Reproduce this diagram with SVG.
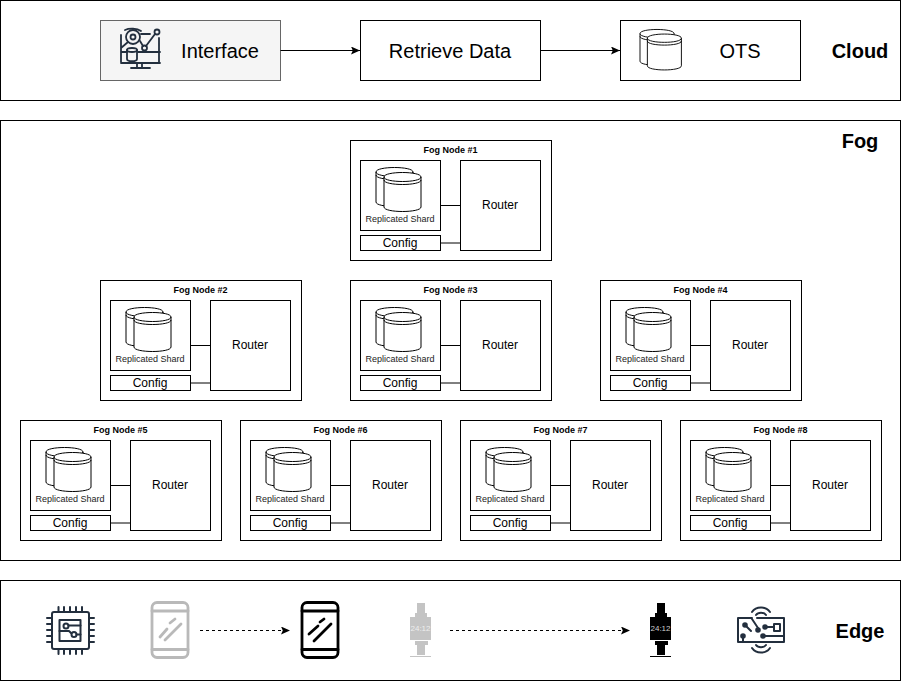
<svg xmlns="http://www.w3.org/2000/svg" width="904" height="681" viewBox="0 0 904 681">
<style>
text{font-family:"Liberation Sans",Arial,sans-serif;fill:#000;text-anchor:middle}
.b{fill:#fff;stroke:#000;stroke-width:1}
.t{font-size:20px}
.l{font-size:20px;font-weight:bold}
.h{font-size:9px;font-weight:bold}
.s{font-size:9px;fill:#222}
.c{font-size:12px}
.w{stroke:#000;fill:none}
.ic{fill:none;stroke:#232f3e;stroke-width:2;stroke-linecap:round;stroke-linejoin:round}
.ph{fill:none;stroke-width:2.800;stroke-linecap:round;stroke-linejoin:round}
</style>
<defs>
<marker id="a" markerWidth="10" markerHeight="10" refX="9" refY="4" orient="auto" markerUnits="userSpaceOnUse"><path d="M0 0L9 4L0 8L1.800 4Z" fill="#000"/></marker>
<g id="cyl">
<path class="b" d="M0 5C0 -1 37 -1 37 5V35C37 41 0 41 0 35Z"/>
<path d="M0 5C0 11 37 11 37 5M0 8C0 14 37 14 37 8" fill="none" stroke="#000"/>
</g>
<g id="shard"><use href="#cyl" x="0" y="0"/><use href="#cyl" x="8" y="5"/></g>
<g id="watch">
<rect x="7" y="0" width="8" height="10"/><rect x="5" y="10" width="12" height="4"/><rect x="0" y="14" width="21" height="23"/><rect x="5" y="38" width="13" height="4"/><rect x="7" y="42" width="8" height="10"/><rect x="0" y="53" width="21" height="1"/>
</g>
</defs>

<g id="cloud"><rect class="b" x="0.500" y="0.500" width="900" height="100"/><text class="l" x="860" y="58">Cloud</text></g>
<g id="fog"><rect class="b" x="0.500" y="120.500" width="900" height="440"/><text class="l" x="860" y="148">Fog</text></g>
<g id="edge"><rect class="b" x="0.500" y="580.500" width="900" height="100"/><text class="l" x="860" y="638">Edge</text></g>

<g id="interface">
<rect x="100.500" y="20.500" width="180" height="60" fill="#f5f5f5" stroke="#666"/>
<g fill="none" stroke="#232f3e" stroke-width="1.800" stroke-linecap="round" stroke-linejoin="round">
<path d="M121 35V62M121 63H160M159 38V63M121 52H127M138 52H160M141 34H150M128 42L121 48M125 30C129 28 137 28 141 31M140 41L143 46M146 46L155 34"/>
<circle cx="133" cy="37" r="7"/><circle cx="133" cy="37" r="2.500"/>
<circle cx="144.500" cy="48" r="2.500"/><circle cx="157" cy="32" r="2.500"/>
<ellipse cx="132" cy="50" rx="5" ry="2"/><path d="M127 50V59C127 62 137 62 137 59V50"/>
<path d="M137 63V67M142 63V67M131 68H150"/>
</g>
<text class="t" x="220" y="58">Interface</text>
</g>
<g id="retrieve"><rect class="b" x="360.500" y="20.500" width="180" height="60"/><text class="t" x="450" y="58">Retrieve Data</text></g>
<g id="ots"><rect class="b" x="620.500" y="20.500" width="180" height="60"/><use href="#shard" transform="translate(640 29) scale(.92)"/><text class="t" x="740" y="58">OTS</text></g>

<g id="fog-node-1" transform="translate(350 140)"><rect class="b" x=".5" y=".5" width="201" height="120"/><text class="h" x="100.500" y="13">Fog Node #1</text><rect class="b" x="10.500" y="20.500" width="80" height="70"/><use href="#shard" x="26" y="27"/><text class="s" x="50" y="82">Replicated Shard</text><rect class="b" x="110.500" y="20.500" width="80" height="90"/><text class="c" x="150" y="69">Router</text><rect class="b" x="10.500" y="95.500" width="80" height="15"/><text class="c" x="50" y="107">Config</text></g>
<g id="fog-node-2" transform="translate(100 280)"><rect class="b" x=".5" y=".5" width="201" height="120"/><text class="h" x="100.500" y="13">Fog Node #2</text><rect class="b" x="10.500" y="20.500" width="80" height="70"/><use href="#shard" x="26" y="27"/><text class="s" x="50" y="82">Replicated Shard</text><rect class="b" x="110.500" y="20.500" width="80" height="90"/><text class="c" x="150" y="69">Router</text><rect class="b" x="10.500" y="95.500" width="80" height="15"/><text class="c" x="50" y="107">Config</text></g>
<g id="fog-node-3" transform="translate(350 280)"><rect class="b" x=".5" y=".5" width="201" height="120"/><text class="h" x="100.500" y="13">Fog Node #3</text><rect class="b" x="10.500" y="20.500" width="80" height="70"/><use href="#shard" x="26" y="27"/><text class="s" x="50" y="82">Replicated Shard</text><rect class="b" x="110.500" y="20.500" width="80" height="90"/><text class="c" x="150" y="69">Router</text><rect class="b" x="10.500" y="95.500" width="80" height="15"/><text class="c" x="50" y="107">Config</text></g>
<g id="fog-node-4" transform="translate(600 280)"><rect class="b" x=".5" y=".5" width="201" height="120"/><text class="h" x="100.500" y="13">Fog Node #4</text><rect class="b" x="10.500" y="20.500" width="80" height="70"/><use href="#shard" x="26" y="27"/><text class="s" x="50" y="82">Replicated Shard</text><rect class="b" x="110.500" y="20.500" width="80" height="90"/><text class="c" x="150" y="69">Router</text><rect class="b" x="10.500" y="95.500" width="80" height="15"/><text class="c" x="50" y="107">Config</text></g>
<g id="fog-node-5" transform="translate(20 420)"><rect class="b" x=".5" y=".5" width="201" height="120"/><text class="h" x="100.500" y="13">Fog Node #5</text><rect class="b" x="10.500" y="20.500" width="80" height="70"/><use href="#shard" x="26" y="27"/><text class="s" x="50" y="82">Replicated Shard</text><rect class="b" x="110.500" y="20.500" width="80" height="90"/><text class="c" x="150" y="69">Router</text><rect class="b" x="10.500" y="95.500" width="80" height="15"/><text class="c" x="50" y="107">Config</text></g>
<g id="fog-node-6" transform="translate(240 420)"><rect class="b" x=".5" y=".5" width="201" height="120"/><text class="h" x="100.500" y="13">Fog Node #6</text><rect class="b" x="10.500" y="20.500" width="80" height="70"/><use href="#shard" x="26" y="27"/><text class="s" x="50" y="82">Replicated Shard</text><rect class="b" x="110.500" y="20.500" width="80" height="90"/><text class="c" x="150" y="69">Router</text><rect class="b" x="10.500" y="95.500" width="80" height="15"/><text class="c" x="50" y="107">Config</text></g>
<g id="fog-node-7" transform="translate(460 420)"><rect class="b" x=".5" y=".5" width="201" height="120"/><text class="h" x="100.500" y="13">Fog Node #7</text><rect class="b" x="10.500" y="20.500" width="80" height="70"/><use href="#shard" x="26" y="27"/><text class="s" x="50" y="82">Replicated Shard</text><rect class="b" x="110.500" y="20.500" width="80" height="90"/><text class="c" x="150" y="69">Router</text><rect class="b" x="10.500" y="95.500" width="80" height="15"/><text class="c" x="50" y="107">Config</text></g>
<g id="fog-node-8" transform="translate(680 420)"><rect class="b" x=".5" y=".5" width="201" height="120"/><text class="h" x="100.500" y="13">Fog Node #8</text><rect class="b" x="10.500" y="20.500" width="80" height="70"/><use href="#shard" x="26" y="27"/><text class="s" x="50" y="82">Replicated Shard</text><rect class="b" x="110.500" y="20.500" width="80" height="90"/><text class="c" x="150" y="69">Router</text><rect class="b" x="10.500" y="95.500" width="80" height="15"/><text class="c" x="50" y="107">Config</text></g>

<g id="chip" class="ic">
<rect x="52" y="612" width="37" height="37" rx="2"/>
<rect x="59.500" y="620" width="21" height="21"/>
<path d="M59.500 631H69L71 633M68.500 625.500H80.500M76.500 634.500H80.500"/>
<circle cx="66" cy="626" r="2.500"/><circle cx="74" cy="634.500" r="2.500"/>
<path d="M58.500 607V612M64 607V612M70 607V612M76 607V612M82 607V612M58.500 649V654M64 649V654M70 649V654M76 649V654M82 649V654M47 618H52M47 624H52M47 630H52M47 636H52M47 642H52M89 618H94M89 624H94M89 630H94M89 636H94M89 642H94"/>
</g>
<g id="phone-faded" class="ph" stroke="#b9b9b9" transform="translate(150 601)"><rect x="2" y="1.500" width="36" height="55" rx="5"/><path d="M2 10H38M2 48.500H38M20 22L25 18M10 36L17 28M15 39L31 23"/></g>
<g id="phone-active" class="ph" stroke="#000" transform="translate(300 601)"><rect x="2" y="1.500" width="36" height="55" rx="5"/><path d="M2 10H38M2 48.500H38M20 21L24 18M9 33L18 25M14 40L31 23"/></g>
<g id="watch-faded" transform="translate(410 603)" fill="#c4c4c4"><use href="#watch"/><text x="10.500" y="28" style="font-size:8px;fill:#eee">24:12</text></g>
<g id="watch-active" transform="translate(650 603)" fill="#000"><use href="#watch"/><text x="10.500" y="28" style="font-size:8px;fill:#ccc">24:12</text></g>
<g id="iot" class="ic">
<path d="M752 618H738V642H784V618H757"/>
<path d="M745 625L751 631M752 619L758 628M743 641V637M765 627H774M763 636H784"/>
<g fill="#232f3e"><circle cx="745" cy="625" r="1.800"/><circle cx="758" cy="630" r="1.800"/><circle cx="743" cy="636" r="1.800"/><circle cx="765" cy="627" r="1.800"/><circle cx="763" cy="636" r="1.800"/></g>
<rect x="774" y="624" width="6" height="7"/>
<path d="M752 612C756 606 766 606 770 612M756 615C758 612 764 612 766 615M752 648C756 654 766 654 770 648M756 645C758 648 764 648 766 645"/>
</g>

<g id="connectors">
<path class="w" d="M280.500 50.500H360" marker-end="url(#a)"/>
<path class="w" d="M540.500 50.500H620" marker-end="url(#a)"/>
<path class="w" stroke-dasharray="3 3" d="M200 630.500H290" marker-end="url(#a)"/>
<path class="w" stroke-dasharray="3 3" d="M450 630.500H630" marker-end="url(#a)"/>
<path class="w" d="M440.500 205.500H460.500M190.500 345.500H210.500M440.500 345.500H460.500M690.500 345.500H710.500M110.500 485.500H130.500M330.500 485.500H350.500M550.500 485.500H570.500M770.500 485.500H790.500"/>
<path class="w" d="M440.500 243H460.500M190.500 383H210.500M440.500 383H460.500M690.500 383H710.500M110.500 523H130.500M330.500 523H350.500M550.500 523H570.500M770.500 523H790.500"/>
</g>
</svg>
